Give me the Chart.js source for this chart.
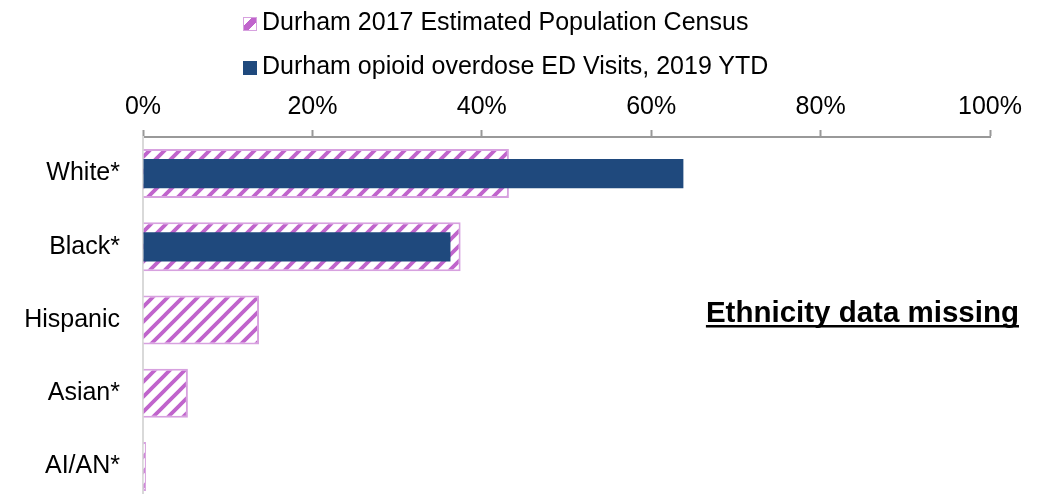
<!DOCTYPE html>
<html lang="en">
<head>
    <meta charset="UTF-8">
    <title>Durham opioid overdose ED visits by race</title>
    <script src="https://cdn.jsdelivr.net/npm/chart.js"></script>
    <style>
        html, body {
            margin: 0;
            padding: 0;
            width: 1046px;
            height: 494px;
            overflow: hidden;
            background: #fff;
            font-family: "Liberation Sans", Arial, sans-serif;
        }
        #raceChart {
            position: absolute;
            left: 0;
            top: 0;
        }
        .legend {
            position: absolute;
            left: 243px;
            top: 6px;
            z-index: 2;
        }
        .legend-item {
            font-size: 25px;
            line-height: 30px;
            height: 30px;
            color: #000;
            white-space: nowrap;
            margin-bottom: 14px;
        }
        .swatch {
            display: inline-block;
            box-sizing: border-box;
            width: 14px;
            height: 14px;
            margin-right: 5px;
            vertical-align: -1px;
        }
        .swatch.census {
            border: 1.5px solid #d7a1df;
            background: linear-gradient(to bottom right, #fff 32%, #c064cc 32%, #c064cc 68%, #fff 68%);
        }
        .swatch.ed {
            background: #1f497d;
        }
    </style>
</head>
<body>

<div class="legend">
    <div class="legend-item"><span class="swatch census"></span>Durham 2017 Estimated Population Census</div>
    <div class="legend-item"><span class="swatch ed"></span>Durham opioid overdose ED Visits, 2019 YTD</div>
</div>

<canvas id="raceChart" width="1046" height="506"></canvas>

<script>
    // data (percent of total)
    const categories = ['White*', 'Black*', 'Hispanic', 'Asian*', 'AI/AN*'];
    const censusShare = [43.2, 37.5, 13.7, 5.3, 0.35];
    const edVisitShare = [63.8, 36.3, null, null, null];   // ethnicity missing in ED data
    const xTicks = [0, 20, 40, 60, 80, 100];

    const censusLabel = 'Durham 2017 Estimated Population Census';
    const edLabel = 'Durham opioid overdose ED Visits, 2019 YTD';
    const missingNote = 'Ethnicity data missing';

    const FONT = '"Liberation Sans", Arial, sans-serif';

    // diagonal hatch like the Excel "wide upward diagonal" fill
    function makeHatch(color) {
        const size = 15;
        const tile = document.createElement('canvas');
        tile.width = size;
        tile.height = size;
        const c = tile.getContext('2d');
        c.fillStyle = '#fff';
        c.fillRect(0, 0, size, size);
        c.strokeStyle = color;
        c.lineWidth = 3.8;
        c.beginPath();
        c.moveTo(-2, size + 2); c.lineTo(size + 2, -2);
        c.moveTo(-2, 2); c.lineTo(2, -2);
        c.moveTo(size - 2, size + 2); c.lineTo(size + 2, size - 2);
        c.stroke();
        return c.createPattern(tile, 'repeat');
    }

    // bold underlined note next to the rows without ED data
    const notePlugin = {
        id: 'missingNote',
        afterDatasetsDraw(chart) {
            const ctx = chart.ctx;
            const x = chart.scales.x.right + 29;
            const y = chart.scales.y.getPixelForValue(2) + 2;
            ctx.save();
            ctx.font = 'bold 29.5px ' + FONT;
            ctx.fillStyle = '#000';
            ctx.textAlign = 'right';
            ctx.textBaseline = 'alphabetic';
            ctx.fillText(missingNote, x, y);
            const w = ctx.measureText(missingNote).width;
            ctx.fillRect(x - w, y + 3, w, 2.5);
            ctx.restore();
        }
    };

    const ctx = document.getElementById('raceChart').getContext('2d');
    new Chart(ctx, {
        type: 'bar',
        data: {
            labels: categories,
            datasets: [
                {
                    label: edLabel,
                    data: edVisitShare,
                    backgroundColor: '#1f497d',
                    borderWidth: 0,
                    grouped: false,
                    categoryPercentage: 1,
                    barPercentage: 0.4
                },
                {
                    label: censusLabel,
                    data: censusShare,
                    backgroundColor: makeHatch('#c064cc'),
                    borderColor: '#d7a1df',
                    borderWidth: 2,
                    grouped: false,
                    categoryPercentage: 1,
                    barPercentage: 0.67
                }
            ]
        },
        options: {
            indexAxis: 'y',
            responsive: false,
            animation: false,
            layout: {
                padding: { left: 0, right: 56, top: 0, bottom: 3 }
            },
            plugins: {
                legend: { display: false },
                tooltip: { enabled: false }
            },
            scales: {
                x: {
                    position: 'top',
                    min: 0,
                    max: 100,
                    afterBuildTicks: (scale) => {
                        scale.ticks = xTicks.map(v => ({ value: v }));
                    },
                    afterFit: (scale) => { scale.height = 137; },
                    ticks: {
                        callback: (v) => v + '%',
                        color: '#000',
                        padding: 8,
                        maxRotation: 0,
                        font: { family: FONT, size: 25 }
                    },
                    grid: {
                        display: true,
                        drawOnChartArea: false,
                        drawTicks: true,
                        tickLength: 7,
                        tickWidth: 2,
                        tickColor: '#999'
                    },
                    border: { display: true, color: '#999', width: 2 }
                },
                y: {
                    afterFit: (scale) => {
                        scale.width = 143;
                        // labels may hang below the plot, the picture is cut there anyway
                        scale.paddingTop = 0;
                        scale.paddingBottom = 0;
                    },
                    ticks: {
                        color: '#000',
                        padding: 15,
                        font: { family: FONT, size: 25 }
                    },
                    grid: { display: false },
                    border: { display: true, color: '#d9d9d9', width: 2 }
                }
            }
        },
        plugins: [notePlugin]
    });
</script>

</body>
</html>
